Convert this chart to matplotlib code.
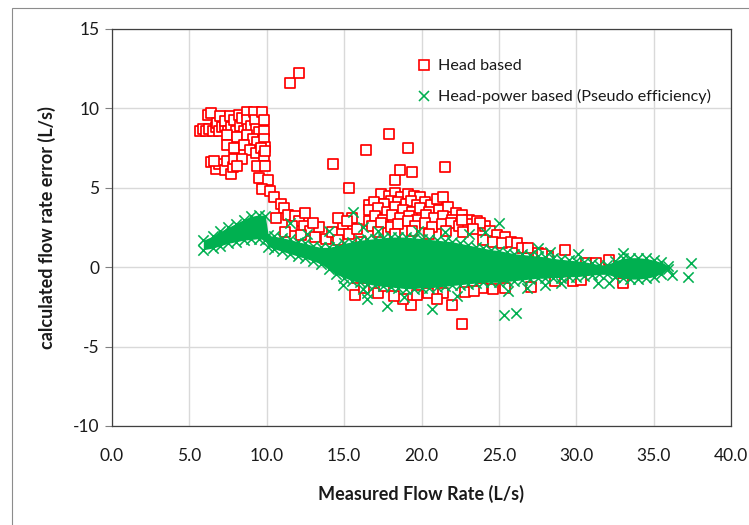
import matplotlib
matplotlib.use("Agg")
import matplotlib.pyplot as plt
from matplotlib.lines import Line2D
from matplotlib.patches import Rectangle

plt.rcParams['font.family'] = ['Lato', 'DejaVu Sans']

RED = '#FF0000'
GREEN = '#00B050'

# ---------------- Head based (red squares) ----------------
red_cluster_x = [5.7, 5.9, 6.1, 6.2, 6.3, 6.4, 6.5, 6.7, 6.8, 6.9, 7.0, 7.1, 7.3, 7.3, 7.5, 7.6, 7.7,
                 7.9, 8.0, 8.2, 8.3, 8.4, 8.5, 8.7, 8.7, 8.8, 9.0, 9.2, 9.25, 9.3, 9.5, 9.7, 9.8, 9.8,
                 7.4, 8.1, 8.7, 9.1, 9.4, 9.8, 9.9,
                 7.4, 7.9, 8.5, 8.9, 9.3, 9.6, 9.8, 9.9,
                 6.4, 6.7, 6.9, 7.3, 7.4, 7.7, 7.8, 7.9, 8.4, 9.4, 9.9, 6.6, 8.1]
red_cluster_y = [8.6, 8.7, 8.6, 9.6, 8.7, 9.7, 8.6, 8.8, 9.1, 8.6, 9.5, 8.8, 8.9, 9.2, 8.6, 9.5, 8.8,
                 9.3, 8.6, 9.6, 8.9, 9.4, 8.6, 9.8, 9.3, 8.7, 8.9, 9.8, 9.3, 8.7, 8.5, 9.8, 9.3, 8.6,
                 8.3, 8.2, 8.3, 8.1, 7.9, 8.1, 7.6,
                 7.7, 7.5, 7.7, 7.4, 7.2, 7.5, 7.0, 7.3,
                 6.6, 6.2, 6.5, 6.1, 6.7, 5.9, 6.3, 6.8, 6.8, 6.4, 6.4, 6.7, 6.4]

red_tail_x = [9.5, 10.1, 9.7, 10.2, 10.5, 10.9, 11.1, 10.6, 11.4, 11.8, 12.1, 11.6, 12.4, 12.8, 12.2,
              13.1, 13.4, 13.8, 14.2, 14.6, 14.9, 15.3, 15.8, 16.1, 15.5, 16.6, 14.6, 15.2, 16.6,
              13.0, 12.5, 11.2]
red_tail_y = [5.6, 5.5, 4.9, 4.8, 4.4, 4.0, 3.7, 3.1, 3.3, 3.2, 2.9, 2.6, 2.6, 2.3, 2.0,
              1.9, 2.5, 1.8, 2.2, 1.7, 2.7, 2.1, 2.4, 1.6, 3.1, 2.9, 3.1, 2.9, 3.9,
              2.8, 3.4, 2.2]

red_mass_x = [17.4, 17.9, 18.3, 18.7, 19.1, 19.5, 19.9, 18.0,
              16.9, 17.6, 18.5, 19.0, 19.3, 19.7, 20.2, 20.6, 21.0, 21.4,
              16.6, 17.2, 17.8, 18.3, 18.8, 19.4, 19.9, 20.5, 21.1, 21.7, 22.2,
              17.0, 17.5, 18.1, 18.6, 19.2, 19.7, 20.3, 20.8, 21.4, 22.0, 22.6, 23.1,
              16.8, 17.4, 18.0, 18.5, 19.1, 19.6, 20.2, 20.7, 21.3, 21.9, 22.4, 23.0, 23.6, 24.1, 22.6, 23.8,
              17.2, 18.3, 19.4, 20.5, 21.6, 22.7, 23.3, 24.4, 24.9, 25.4,
              24.0, 24.6, 25.2, 25.8, 26.2, 26.5, 26.9, 27.5]
red_mass_y = [4.6, 4.5, 4.7, 4.4, 4.6, 4.5, 4.4, 4.2,
              4.1, 4.0, 4.1, 4.0, 4.2, 3.9, 4.1, 3.9, 4.3, 4.4,
              3.6, 3.7, 3.5, 3.8, 3.6, 3.5, 3.7, 3.5, 3.6, 3.8, 3.4,
              3.2, 3.0, 3.3, 3.1, 3.2, 3.0, 3.3, 3.1, 3.2, 3.0, 3.3, 3.0,
              2.6, 2.8, 2.5, 2.7, 2.9, 2.6, 2.8, 2.5, 2.7, 2.8, 2.6, 2.7, 2.9, 2.6, 3.0, 2.8,
              2.2, 2.1, 2.3, 2.1, 2.3, 2.2, 2.4, 2.3, 2.0, 1.9,
              1.7, 1.6, 1.5, 1.6, 1.5, 1.2, 1.2, 0.9]

red_low_x = [15.7, 15.8, 19.3, 22.0, 20.4, 21.4, 22.8, 18.8, 19.7, 22.6, 17.2, 18.2, 23.9, 24.6,
             23.4, 21.0, 17.6, 16.3, 25.4, 27.1, 28.6, 29.8, 30.3, 33.0]
red_low_y = [-1.75, -0.7, -2.35, -2.4, -1.65, -1.65, -1.55, -2.0, -1.75, -3.6, -1.6, -1.8, -1.3, -1.35,
             -1.5, -2.0, -1.2, -1.3, -1.3, -1.25, -0.9, -0.9, -0.8, -1.0]

red_right_x = [29.3, 30.6, 31.3, 32.1, 28.2, 27.8]
red_right_y = [1.07, 0.25, 0.25, 0.44, 0.7, 0.8]

red_outlier_x = [11.5, 12.1, 14.3, 15.3, 16.4, 17.9, 18.3, 18.6, 19.1, 19.4, 21.5]
red_outlier_y = [11.6, 12.2, 6.5, 5.0, 7.4, 8.4, 5.5, 6.1, 7.5, 6.0, 6.3]

# ---------------- Head-power based (green crosses) ----------------
# dense band of overlapping crosses: x with lower / upper limit of the solid cloud
green_band_x = [5.9, 6.5, 7.0, 7.5, 8.0, 8.5, 9.0, 9.5, 9.9, 10.1, 10.5,
                11.0, 11.5, 12.0, 12.5, 13.0, 13.5, 14.0, 14.5, 15.0, 15.5,
                16.0, 16.5, 17.0, 17.5, 18.0, 18.5, 19.0, 19.5, 20.0, 20.5,
                21.0, 21.5, 22.0, 22.5, 23.0, 23.5, 24.0, 24.5, 25.0, 25.5,
                26.0, 26.5, 27.0, 27.5, 28.0, 28.5, 29.0, 29.5, 30.0, 30.5,
                31.0, 31.5, 32.0, 32.5, 33.0, 33.5, 34.0, 34.5, 35.0, 35.5, 35.9]
green_band_hi = [1.7, 1.95, 2.25, 2.5, 2.75, 3.0, 3.2, 3.3, 3.25, 2.0, 1.95,
                 1.85, 1.75, 1.6, 1.5, 1.35, 1.25, 1.25, 1.35, 1.5, 1.6,
                 1.7, 1.75, 1.8, 1.85, 1.9, 1.9, 1.9, 1.85, 1.8, 1.75,
                 1.7, 1.65, 1.6, 1.5, 1.4, 1.3, 1.2, 1.1, 1.05, 0.95,
                 0.85, 0.8, 0.75, 0.7, 0.65, 0.55, 0.5, 0.45, 0.4, 0.35,
                 0.25, 0.15, 0.15, 0.4, 0.55, 0.6, 0.6, 0.55, 0.45, 0.3, 0.1]
green_band_lo = [1.1, 1.2, 1.35, 1.5, 1.6, 1.7, 1.75, 1.8, 1.7, 1.3, 1.15,
                 1.0, 0.85, 0.7, 0.55, 0.4, 0.2, -0.1, -0.45, -0.65, -0.85,
                 -0.95, -1.05, -1.15, -1.2, -1.25, -1.3, -1.35, -1.35, -1.3, -1.3,
                 -1.25, -1.2, -1.15, -1.1, -1.05, -1.0, -0.95, -0.95, -0.95, -0.9,
                 -0.85, -0.8, -0.75, -0.7, -0.7, -0.65, -0.65, -0.6, -0.6, -0.55,
                 -0.5, -0.45, -0.45, -0.6, -0.7, -0.75, -0.75, -0.7, -0.6, -0.4, -0.1]

green_outlier_x = [15.6, 16.2, 14.0, 11.5, 12.6, 16.5, 16.2, 16.5, 17.8, 20.7, 25.0, 23.1, 24.1,
                   27.5, 28.3, 30.1, 31.4, 32.1, 33.0, 36.2, 37.2, 37.4, 25.3, 26.1, 25.6, 26.8,
                   28.0, 29.0, 22.3, 18.9, 19.8, 21.5, 17.2, 14.9]
green_outlier_y = [3.45, 2.5, 2.3, 2.8, 2.1, -1.6, -1.4, -2.0, -2.45, -2.65, 2.8, 2.1, 2.2,
                   1.2, 0.95, 0.8, -1.0, -1.0, 0.9, -0.5, -0.6, 0.25, -3.0, -2.9, -1.5, -1.3,
                   -1.1, -1.0, -1.8, -1.9, 2.3, 2.2, 2.3, -1.1]

x_ticks = [0, 5, 10, 15, 20, 25, 30, 35, 40]
y_ticks = [-10, -5, 0, 5, 10, 15]

fig = plt.figure(figsize=(7.49, 5.25), dpi=100)
fig.patches.append(Rectangle((12 / 749, -0.05), 1.1, 1 - 8 / 525 + 0.05,
                             transform=fig.transFigure, fill=False,
                             edgecolor='#8c8c8c', linewidth=0.8))

ax = fig.add_axes([112 / 749, 1 - 426 / 525, (731 - 112) / 749, (426 - 29) / 525])

sq = dict(marker='s', s=48, facecolors='white', edgecolors=RED, linewidths=1.25, zorder=2)
for xs, ys in [(red_cluster_x, red_cluster_y), (red_tail_x, red_tail_y),
               (red_mass_x, red_mass_y), (red_low_x, red_low_y),
               (red_right_x, red_right_y), (red_outlier_x, red_outlier_y)]:
    ax.scatter(xs, ys, **sq)

cr = dict(marker='x', s=55, color=GREEN, linewidths=1.15, zorder=3)
ax.fill_between(green_band_x, green_band_lo, green_band_hi, color=GREEN, lw=0, zorder=3)
ax.scatter(green_band_x, green_band_hi, **cr)
ax.scatter(green_band_x, green_band_lo, **cr)
ax.scatter(green_outlier_x, green_outlier_y, **cr)

ax.set_xlim(0, 40)
ax.set_ylim(-10, 15)
ax.set_xticks(x_ticks)
ax.set_xticklabels([f"{v:.1f}" for v in x_ticks])
ax.set_yticks(y_ticks)
ax.set_yticklabels([str(v) for v in y_ticks])
ax.grid(True, color='#d9d9d9', linewidth=1.0, zorder=0)
ax.set_axisbelow(True)
for sp in ax.spines.values():
    sp.set_color('#404040')
    sp.set_linewidth(0.9)
ax.tick_params(axis='y', length=5, width=0.8, color='#808080', labelsize=12.5, pad=4, labelcolor='#1a1a1a')
ax.tick_params(axis='x', length=0, labelsize=12.5, pad=16, labelcolor='#1a1a1a')

ax.set_xlabel('Measured Flow Rate (L/s)', fontsize=13, fontweight='bold', labelpad=15, color='#1a1a1a')
ax.set_ylabel('calculated flow rate error (L/s)', fontsize=13, fontweight='bold', labelpad=12, color='#1a1a1a')

handles = [Line2D([], [], linestyle='none', marker='s', markersize=6.5, markerfacecolor='white',
                  markeredgecolor=RED, markeredgewidth=1.2),
           Line2D([], [], linestyle='none', marker='x', markersize=7.2, color=GREEN, markeredgewidth=1.15)]
fig.legend(handles, ['Head based', 'Head-power based (Pseudo efficiency)'],
           loc='upper left', bbox_to_anchor=(418 / 749, 1 - 59 / 525), frameon=False,
           fontsize=11.6, handlelength=0.8, handletextpad=0.45, labelspacing=1.0,
           borderpad=0, borderaxespad=0, labelcolor='#1a1a1a')

fig.savefig('out.png', dpi=100)
